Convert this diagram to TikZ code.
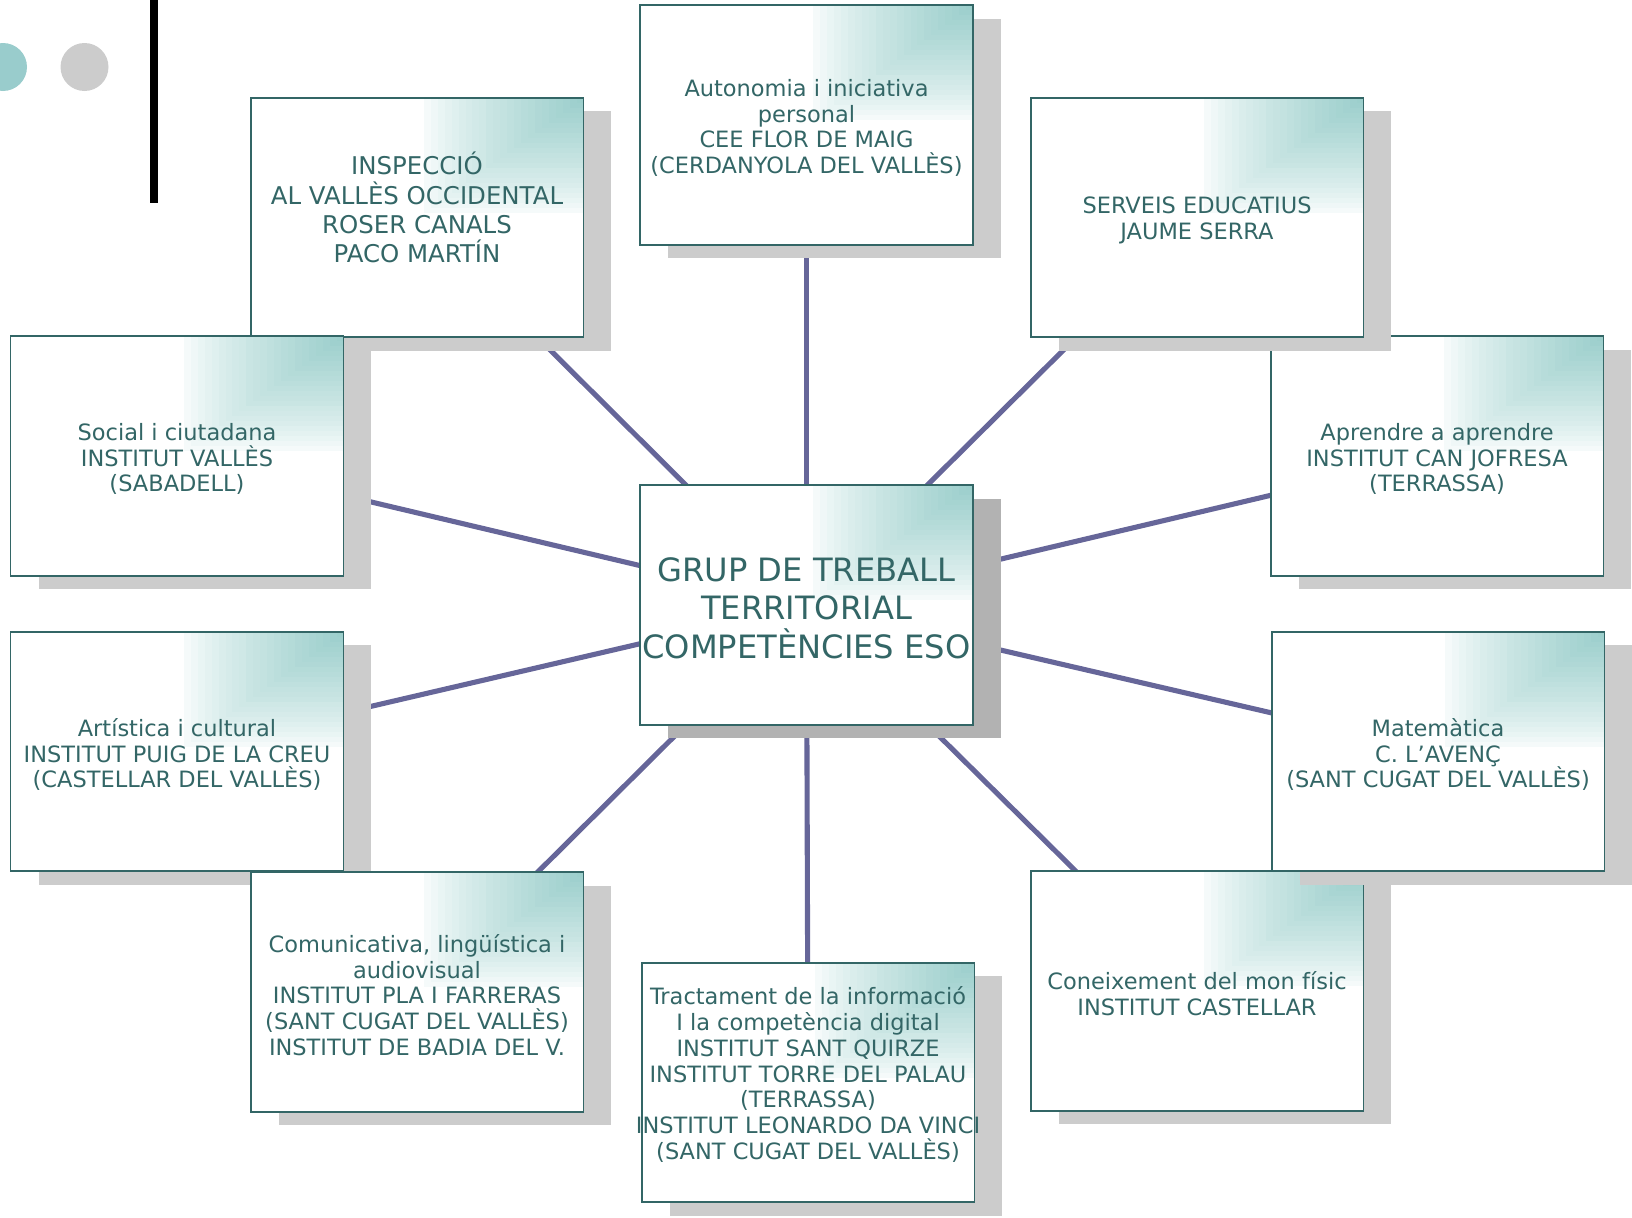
\documentclass[tikz,border=0pt]{standalone}
\usepackage{fontspec}
\setmainfont{DejaVu Sans}
\usetikzlibrary{shadows,backgrounds,calc}

\definecolor{boxline}{HTML}{336666}
\definecolor{gradteal}{HTML}{9CCFCC}
\definecolor{linkcol}{HTML}{666699}
\definecolor{shadowgray}{HTML}{CCCCCC}
\definecolor{darkshadow}{HTML}{B2B2B2}
\definecolor{dotteal}{HTML}{99CCCC}

\tikzset{
  cbox/.style={draw=boxline, line width=1.1pt, fill=white, inner sep=0pt, outer sep=0pt,
    minimum width=6.66cm, minimum height=4.79cm,
    drop shadow={shadow xshift=0.56cm, shadow yshift=-0.27cm, fill=shadowgray, opacity=1},
    path picture={
      \foreach \i in {0,...,23}{
        \pgfmathsetmacro\f{1-\i/24}
        \pgfmathtruncatemacro\p{round(100*(\i/23)^0.75)}
        \fill[gradteal!\p!white]
          ($(path picture bounding box.north east)+(-\f*3.33cm,-\f*2.4cm)$)
          rectangle (path picture bounding box.north east);
      }
    }},
  ctext/.style={align=center, text=boxline, yshift=-0.06cm, font=\fontsize{12.8}{14.7}\selectfont},
  link/.style={draw=linkcol, line width=2.9pt}
}

\begin{document}
\begin{tikzpicture}[x=0.02cm, y=-0.02cm]
\useasboundingbox (0,0) rectangle (1632,1217);

% Dots and bar
\fill[dotteal] (3,67) circle (24);
\fill[shadowgray] (84.5,67) circle (24);
\fill[black] (150,0) rectangle (158,203);

% Boxes
\node[cbox] (auto) at (806.5,125) {};
\node[ctext] (autot) at (auto) {Autonomia i iniciativa\\personal\\CEE FLOR DE MAIG\\(CERDANYOLA DEL VALLÈS)};

\node[cbox] (aprendre) at (1437,456) {};
\node[ctext] (aprendret) at (aprendre) {Aprendre a aprendre\\INSTITUT CAN JOFRESA\\(TERRASSA)};

\node[cbox] (serveis) at (1197,217.5) {};
\node[ctext] (serveist) at (serveis) {SERVEIS EDUCATIUS\\JAUME SERRA};

\node[cbox] (inspec) at (417,217.5) {};
\node[ctext, font=\fontsize{13.9}{16.6}\selectfont, yshift=0.26cm] (inspect) at (inspec) {INSPECCIÓ\\AL VALLÈS OCCIDENTAL\\ROSER CANALS\\PACO MARTÍN};

\node[cbox] (social) at (177,456) {};
\node[ctext] (socialt) at (social) {Social i ciutadana\\INSTITUT VALLÈS\\(SABADELL)};

\node[cbox] (artistica) at (177,751.5) {};
\node[ctext] (artisticat) at (artistica) {Artística i cultural\\INSTITUT PUIG DE LA CREU\\(CASTELLAR DEL VALLÈS)};

\node[cbox] (comunic) at (417,992) {};
\node[ctext] (comunict) at (comunic) {Comunicativa, lingüística i\\audiovisual\\INSTITUT PLA I FARRERAS\\(SANT CUGAT DEL VALLÈS)\\INSTITUT DE BADIA DEL V.};

\node[cbox] (coneix) at (1197,991) {};
\node[ctext] (coneixt) at (coneix) {Coneixement del mon físic\\INSTITUT CASTELLAR};

\node[cbox] (mates) at (1438,751.5) {};
\node[ctext] (matest) at (mates) {Matemàtica\\C. L’AVENÇ\\(SANT CUGAT DEL VALLÈS)};

\node[cbox] (tract) at (808,1082.5) {};
\node[ctext, yshift=0.22cm] (tractt) at (tract) {Tractament de la informació\\I la competència digital\\INSTITUT SANT QUIRZE\\INSTITUT TORRE DEL PALAU\\(TERRASSA)\\INSTITUT LEONARDO DA VINCI\\(SANT CUGAT DEL VALLÈS)};

% Central box
\node[cbox, drop shadow={shadow xshift=0.56cm, shadow yshift=-0.27cm, fill=darkshadow, opacity=1}] (grup) at (806.5,605) {};
\node[ctext, font=\fontsize{18.3}{22}\selectfont] (grupt) at (grup) {GRUP DE TREBALL\\TERRITORIAL\\COMPETÈNCIES ESO};

% Links
\begin{scope}[on background layer]
\foreach \n in {auto,aprendre,serveis,inspec,social,artistica,comunic,coneix,mates,tract}
  \draw[link] (grup.center) -- (\n.center);
\end{scope}

\end{tikzpicture}
\end{document}
